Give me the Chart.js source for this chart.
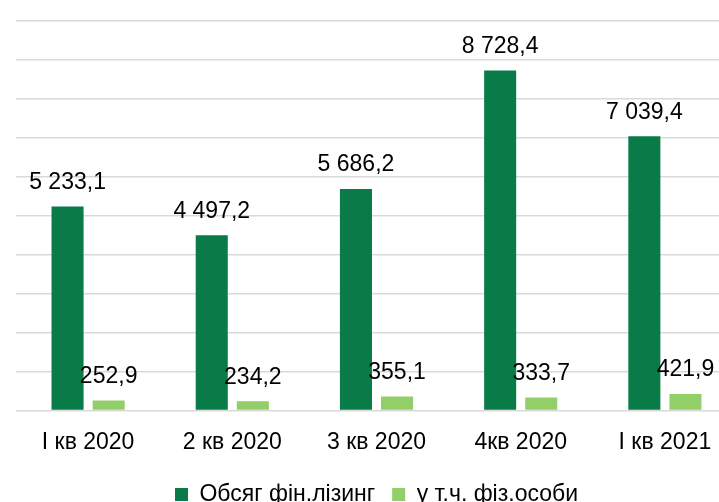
<!DOCTYPE html>
<html>
<head>
<meta charset="utf-8">
<script src="https://cdn.jsdelivr.net/npm/chart.js@4.4.0/dist/chart.umd.min.js"></script>
<style>
    html, body { margin: 0; padding: 0; background: #fff; overflow: hidden; }
    #wrap { width: 719px; height: 502px; overflow: hidden; }
</style>
</head>
<body>
<div id="wrap">
    <canvas id="leasingChart" width="760" height="516"></canvas>
</div>
<script>
const categories = ['І кв 2020', '2 кв 2020', '3 кв 2020', '4кв 2020', 'І кв 2021'];
const volumeTotal = [5233.1, 4497.2, 5686.2, 8728.4, 7039.4];
const volumePersons = [252.9, 234.2, 355.1, 333.7, 421.9];
const seriesNames = ['Обсяг фін.лізинг', 'у т.ч. фіз.особи'];

const FONT = '"Liberation Sans", Arial, sans-serif';

function formatValue(v) {
    const [intPart, decPart] = v.toFixed(1).split('.');
    return intPart.replace(/\B(?=(\d{3})+(?!\d))/g, ' ') + ',' + decPart;
}

// value labels above each bar
const barLabels = {
    id: 'barLabels',
    afterDatasetsDraw(chart) {
        const ctx = chart.ctx;
        ctx.save();
        ctx.font = '23px ' + FONT;
        ctx.fillStyle = '#000';
        ctx.textAlign = 'center';
        ctx.textBaseline = 'middle';
        chart.data.datasets.forEach((ds, i) => {
            chart.getDatasetMeta(i).data.forEach((bar, j) => {
                ctx.fillText(formatValue(ds.data[j]), bar.x, bar.y - 24);
            });
        });
        ctx.restore();
    },
};

new Chart(document.getElementById('leasingChart'), {
    type: 'bar',
    data: {
        labels: categories,
        datasets: [
            {
                label: seriesNames[0],
                data: volumeTotal,
                backgroundColor: '#087b48',
                categoryPercentage: 0.57,
                barPercentage: 0.78,
            },
            {
                label: seriesNames[1],
                data: volumePersons,
                backgroundColor: '#92cf69',
                categoryPercentage: 0.57,
                barPercentage: 0.78,
            },
        ],
    },
    options: {
        responsive: false,
        animation: false,
        devicePixelRatio: 1,
        layout: {
            padding: { left: 16, right: 23, top: 21, bottom: 0 },
        },
        plugins: {
            legend: {
                position: 'bottom',
                labels: {
                    color: '#000',
                    font: { family: FONT, size: 23 },
                    boxWidth: 13,
                    boxHeight: 13,
                    padding: 17,
                },
            },
            tooltip: { enabled: false },
        },
        scales: {
            x: {
                grid: { display: false },
                border: { display: false },
                ticks: {
                    color: '#000',
                    font: { family: FONT, size: 23 },
                    padding: 10,
                },
            },
            y: {
                min: 0,
                max: 10000,
                ticks: { display: false, stepSize: 1000 },
                border: { display: false },
                grid: { color: '#d9d9d9', lineWidth: 1.5, drawTicks: false },
            },
        },
    },
    plugins: [barLabels],
});
</script>
</body>
</html>
